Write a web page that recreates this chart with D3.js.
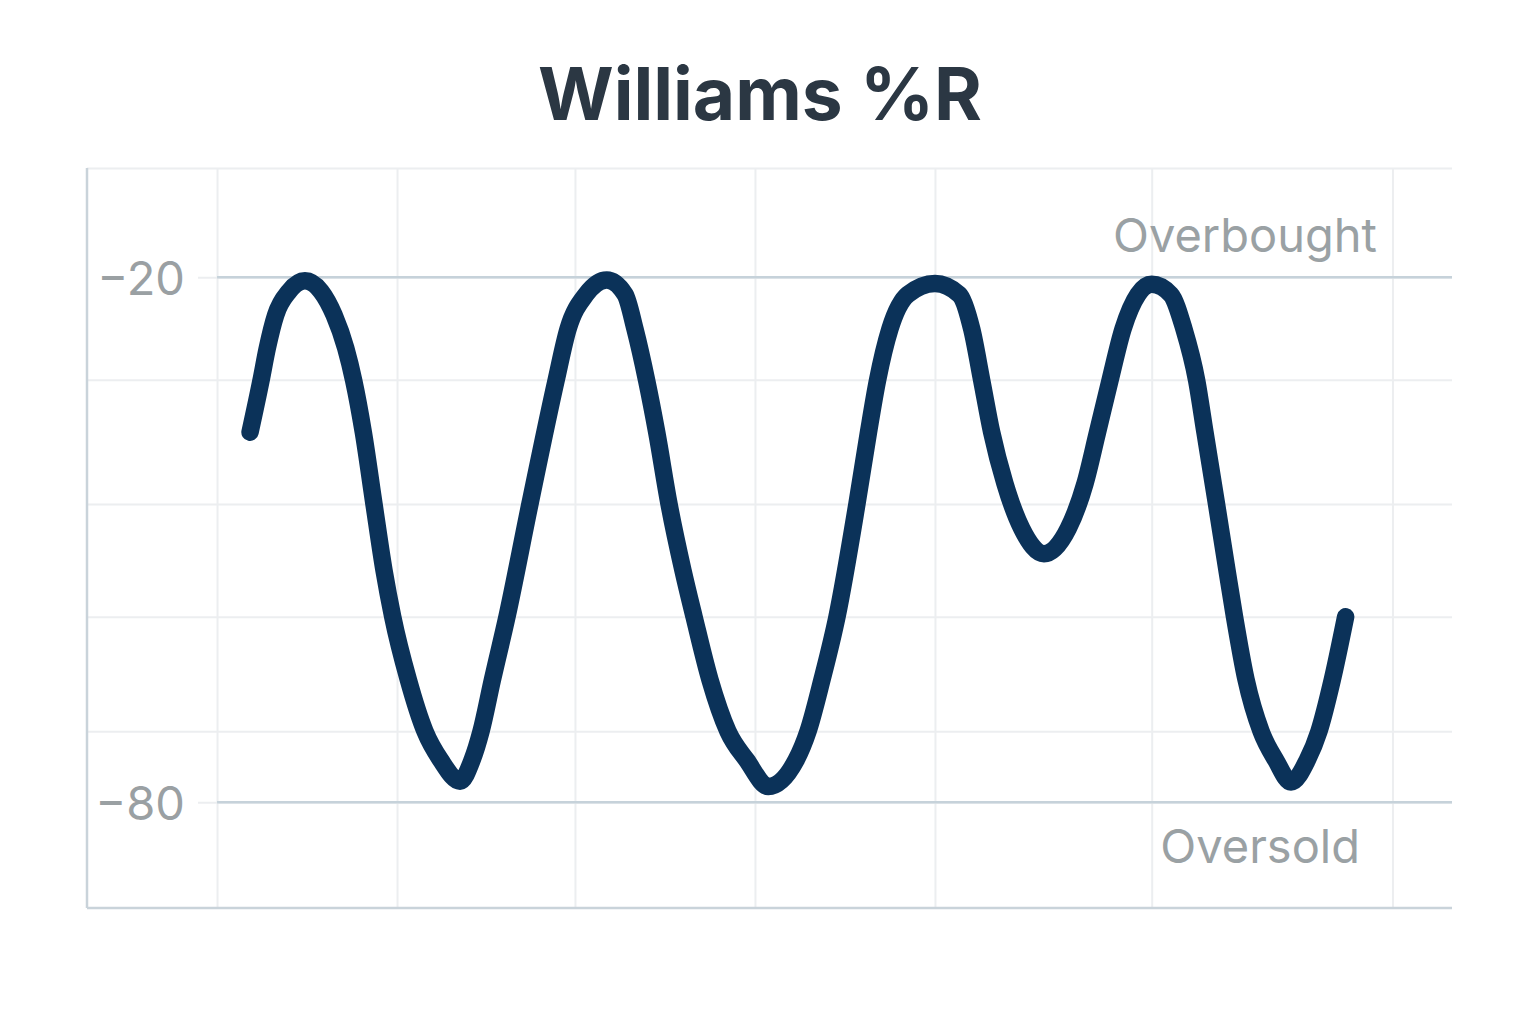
<!DOCTYPE html>
<meta charset="utf-8">
<head>
  <title>Williams %R</title>
  <script src="https://cdn.jsdelivr.net/npm/d3@7"></script>
  <style>
    body { margin: 0; background: #fff; }
    svg { display: block; font-family: Inter, "Noto Sans", sans-serif; }
  </style>
</head>
<body>
<svg width="1536" height="1024"></svg>
<script>

  // period index (x) and %R value (y)
  var periods = [10.87, 11.6, 12.02, 12.58, 13.47, 14.53, 15.6, 16.47, 17.25, 17.78,
                 18.42, 19.13, 19.8, 20.38, 21.42, 22.53, 23.58, 24.87, 25.67, 26.27,
                 27.03, 28.0, 29.53, 31.27, 32.07, 33.27, 34.65, 35.87, 36.53, 37.31,
                 37.98, 38.8, 39.73, 40.47, 41.53, 42.73, 43.98, 45.42, 47.27, 48.07,
                 49.0, 50.0, 51.33, 52.1, 52.7, 53.53, 54.73, 56.53, 58.15, 58.98,
                 59.65, 60.31, 61.2, 62.31, 63.8, 65.42, 66.53, 67.37, 68.2, 69.07,
                 70.07, 70.98, 72.25, 73.13, 73.98, 74.53, 75.3, 76.0, 76.5, 77.27,
                 78.27, 79.25, 80.27, 81.35, 82.13, 83.02, 83.91];
  var values  = [-37.7, -31.8, -28.1, -24.3, -21.6, -20.4, -21.6, -24.3, -28.1, -31.8,
                 -37.7, -45.9, -53.5, -58.8, -66.0, -71.9, -75.2, -77.6, -75.2, -71.9,
                 -66.0, -58.8, -45.9, -31.8, -25.9, -21.95, -20.3, -21.95, -25.9, -31.8,
                 -37.7, -45.9, -53.5, -58.8, -66.0, -71.9, -75.2, -78.2, -75.2, -71.9,
                 -66.0, -58.8, -45.9, -37.7, -31.8, -25.9, -21.95, -20.7, -21.95, -25.9,
                 -31.8, -37.7, -43.6, -48.7, -51.6, -48.7, -43.6, -37.7, -31.8, -25.9,
                 -21.95, -20.8, -21.95, -25.9, -31.8, -37.7, -45.9, -53.5, -58.8, -66.0,
                 -71.9, -75.2, -77.7, -75.2, -71.9, -66.0, -58.8];

  var levels = [-20, -80];                     // overbought / oversold
  var levelNames = ["Overbought", "Oversold"];
  var gridY = [-7.5, -31.7, -45.9, -58.8, -71.9];
  var gridX = [8.67, 20.67, 32.53, 44.53, 56.53, 70.98, 87.03];

  var data = periods.map(function(p, i) { return { p: p, v: values[i] }; });

  var plotL = 87, plotR = 1452, plotT = 168, plotB = 908;

  var x = d3.scaleLinear().domain([0, 91]).range([plotL, plotR]);
  var y = d3.scaleLinear().domain([-92.1, -7.5]).range([plotB, plotT]);

  var svg = d3.select("svg");

  svg.append("text")
    .attr("x", 760)
    .attr("y", 120)
    .attr("text-anchor", "middle")
    .attr("font-size", 73)
    .attr("font-weight", 700)
    .attr("fill", "#2b3743")
    .text("Williams %R");

  // vertical grid
  svg.append("g")
    .attr("transform", "translate(0," + plotB + ")")
    .call(d3.axisBottom(x).tickValues(gridX).tickSize(-(plotB - plotT)).tickFormat(""))
    .call(function(g) {
      g.select(".domain").remove();
      g.selectAll("line").attr("stroke", "#eceef0").attr("stroke-width", 2);
    });

  // horizontal grid
  svg.append("g")
    .attr("transform", "translate(" + plotL + ",0)")
    .call(d3.axisLeft(y).tickValues(gridY).tickSize(-(plotR - plotL)).tickFormat(""))
    .call(function(g) {
      g.select(".domain").remove();
      g.selectAll("line").attr("stroke", "#eceef0").attr("stroke-width", 2);
    });

  // level lines with labels on the left
  svg.append("g")
    .attr("transform", "translate(" + plotR + ",0)")
    .call(d3.axisLeft(y).tickValues(levels).tickSize(plotR - 198).tickPadding(13)
      .tickFormat(d3.format("d")))
    .call(function(g) {
      g.select(".domain").remove();
      g.selectAll("line").attr("stroke", "#eceef0").attr("stroke-width", 2);
      g.selectAll("text")
        .attr("font-size", 47)
        .attr("fill", "#9aa0a3")
        .attr("font-family", "Inter, 'Noto Sans', sans-serif")
        .attr("dy", "0.37em");
    });

  svg.selectAll(".level")
    .data(levels)
    .enter()
    .append("line")
      .attr("class", "level")
      .attr("x1", x(gridX[0]))
      .attr("x2", plotR)
      .attr("y1", function(d) { return y(d); })
      .attr("y2", function(d) { return y(d); })
      .attr("stroke", "#c6d2da")
      .attr("stroke-width", 2.5);

  svg.selectAll(".levelName")
    .data(levels)
    .enter()
    .append("text")
      .attr("class", "levelName")
      .attr("x", function(d, i) { return i == 0 ? 1377 : 1360; })
      .attr("y", function(d, i) { return i == 0 ? y(d) - 25 : y(d) + 61; })
      .attr("text-anchor", "end")
      .attr("font-size", 47)
      .attr("fill", "#9aa1a4")
      .text(function(d, i) { return levelNames[i]; });

  // axis frame
  svg.append("line")
    .attr("x1", plotL).attr("x2", plotL)
    .attr("y1", plotT).attr("y2", plotB)
    .attr("stroke", "#c9d3da").attr("stroke-width", 2.5);
  svg.append("line")
    .attr("x1", plotL).attr("x2", plotR)
    .attr("y1", plotB).attr("y2", plotB)
    .attr("stroke", "#c9d3da").attr("stroke-width", 2.5);

  var line = d3.line()
    .x(function(d) { return x(d.p); })
    .y(function(d) { return y(d.v); })
    .curve(d3.curveMonotoneX);

  svg.append("path")
    .datum(data)
    .attr("d", line)
    .attr("fill", "none")
    .attr("stroke", "#0b3259")
    .attr("stroke-width", 17.5)
    .attr("stroke-linecap", "round")
    .attr("stroke-linejoin", "round");

</script>
</body>
</html>
